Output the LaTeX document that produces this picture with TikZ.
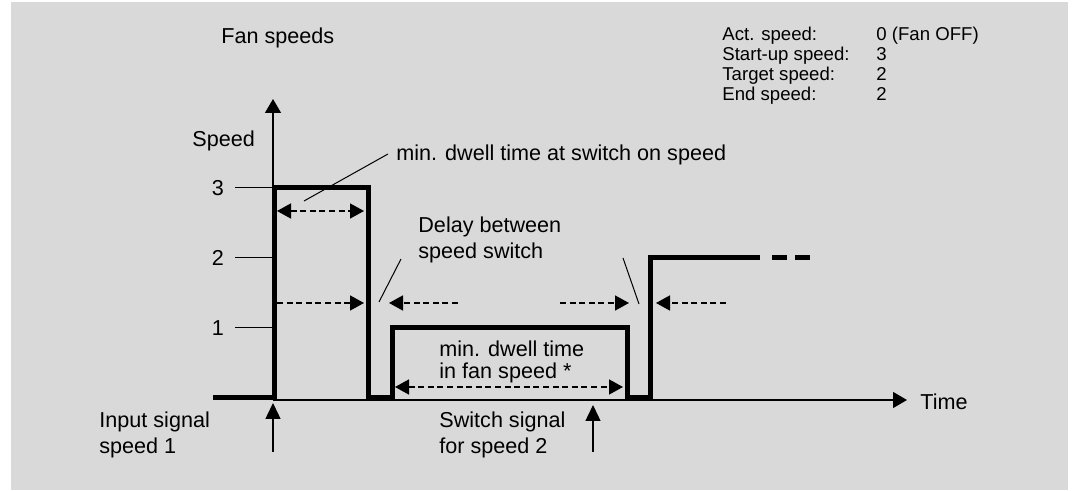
\documentclass[tikz,border=0pt]{standalone}
\usepackage{fontspec}
\setmainfont{Liberation Sans}
\usetikzlibrary{arrows.meta}
\definecolor{panelgray}{RGB}{217,217,217}

\tikzset{
  signal/.style={line width=2.5pt},
  axis/.style={line width=0.7pt, -{Triangle[length=7pt,width=8pt]}},
  trigger/.style={line width=0.7pt, -{Triangle[length=8pt,width=7.5pt]}},
  span/.style={line width=0.8pt, dash pattern=on 3pt off 1.8pt},
  spanone/.style={span, -{Triangle[length=7pt,width=7.5pt]}},
  spanboth/.style={span, {Triangle[length=7pt,width=7.5pt]}-{Triangle[length=7pt,width=7.5pt]}},
  leader/.style={line width=0.5pt},
  txt/.style={font=\fontsize{10.8}{13}\selectfont, inner sep=0pt, anchor=west, align=left},
}

\begin{document}
\begin{tikzpicture}[x=0.5pt, y=-0.5pt]

  \useasboundingbox (0,0) rectangle (1073,491);
  \fill[panelgray] (11,2) rectangle (1068,490);

  \coordinate (O)    at (273,400);
  \coordinate (ytop) at (273,99);
  \coordinate (xend) at (907,400);

  \draw[axis] (O) -- (ytop);
  \draw[axis] (O) -- (xend);

  \foreach \k/\y in {1/328,2/258,3/188} {
    \draw[leader] (235,\y) -- (273,\y);
    \node[txt, anchor=center] (lvl\k) at (218,\y) {\k};
  }

  \draw[signal] (213,398) -- (274,398) -- (274,188) -- (368,188) -- (368,398)
    -- (392,398) -- (392,328) -- (627,328) -- (627,398) -- (650,398)
    -- (650,258) -- (760,258);
  \draw[signal, dash pattern=on 7.5pt off 4pt] (772,258) -- (810,258);

  \node[txt] (title)  at (221,38)  {Fan speeds};
  \node[txt] (ylabel) at (192,141) {Speed};
  \node[txt] (xlabel) at (920,402) {Time};

  \node[txt, anchor=north west, font=\fontsize{9.3}{10}\selectfont] (legend) at (722,26) {%
    \begin{tabular}{@{}p{77pt}@{}l@{}}
      Act. speed:     & 0 (Fan OFF)\\
      Start-up speed: & 3\\
      Target speed:   & 2\\
      End speed:      & 2
    \end{tabular}};

  \node[txt] (onnote) at (396,155) {min. dwell time at switch on speed};
  \node[txt] (delaynote) at (418,240) {Delay between\\speed switch};
  \node[txt, font=\fontsize{10.8}{11}\selectfont] (fannote) at (439,362) {min. dwell time\\in fan speed *};
  \node[txt] (inputnote)  at (99,435)  {Input signal\\speed 1};
  \node[txt] (switchnote) at (439,435) {Switch signal\\for speed 2};

  \coordinate (onfoot)   at (304,201);
  \coordinate (onhead)   at (388,154);
  \coordinate (delayAft) at (379,302);
  \coordinate (delayAhd) at (401,259);
  \coordinate (delayBft) at (639,304);
  \coordinate (delayBhd) at (623,258);

  \draw[leader] (onfoot) -- (onhead);
  \draw[leader] (delayAft) -- (delayAhd);
  \draw[leader] (delayBft) -- (delayBhd);

  \draw[spanboth] (277,211) -- (364,211);
  \draw[spanone]  (277,303) -- (364,303);
  \draw[spanone]  (458,303) -- (389,303);
  \draw[spanone]  (560,303) -- (629,303);
  \draw[spanone]  (726,303) -- (656,303);
  \draw[spanboth] (395,387) -- (623,387);

  \coordinate (inA)  at (273,452);
  \coordinate (inAt) at (273,403);
  \coordinate (inB)  at (593,452);
  \coordinate (inBt) at (593,405);

  \draw[trigger] (inA) -- (inAt);
  \draw[trigger] (inB) -- (inBt);

\end{tikzpicture}
\end{document}
